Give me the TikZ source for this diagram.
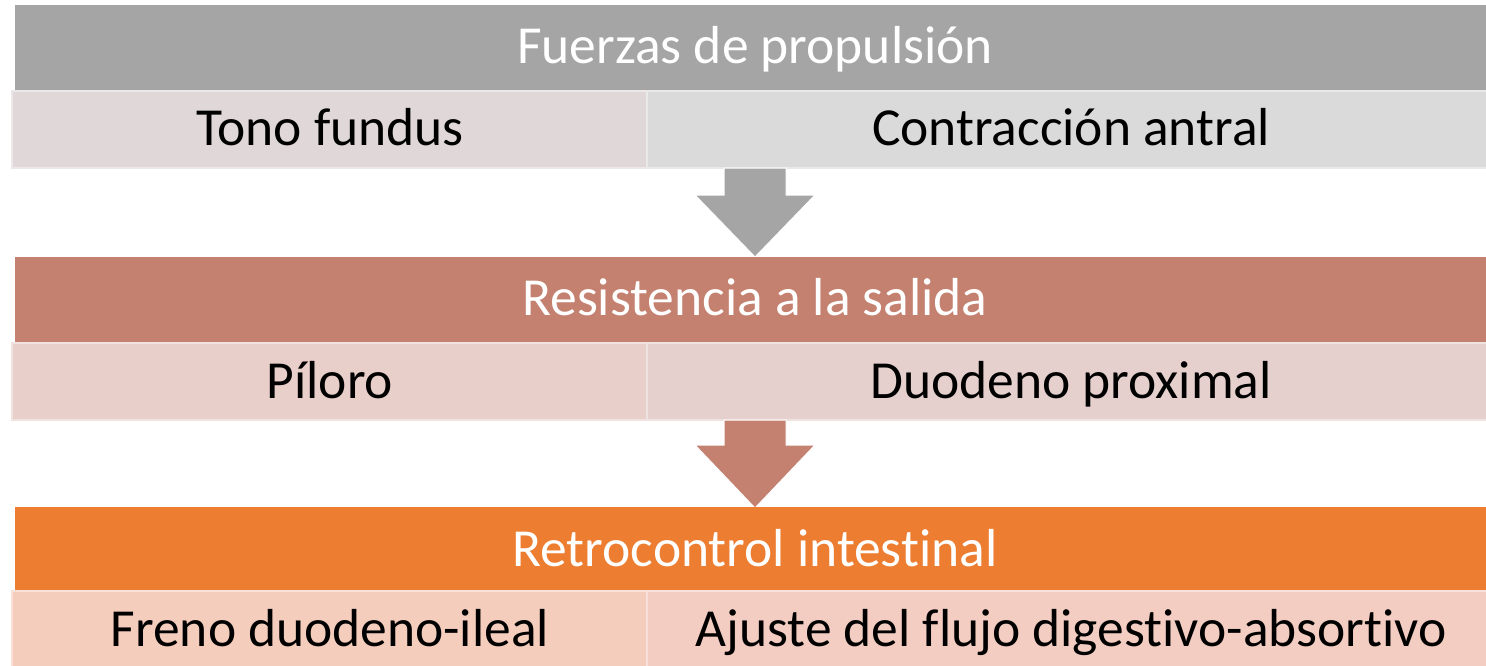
\documentclass[tikz,border=0pt]{standalone}
\usepackage{fontspec}
\setmainfont{Carlito}[Ligatures={NoCommon}]
\definecolor{hdA}{HTML}{A5A5A5}
\definecolor{cA1}{HTML}{DFD7D8}
\definecolor{cA2}{HTML}{DADADA}
\definecolor{hdB}{HTML}{C48170}
\definecolor{cB1}{HTML}{E9CFCA}
\definecolor{cB2}{HTML}{E5D0CD}
\definecolor{hdC}{HTML}{ED7D31}
\definecolor{cC1}{HTML}{F5CDBD}
\definecolor{cC2}{HTML}{F3CDC1}
\tikzset{
  cell/.style={fill=#1, draw=white!40!#1, line width=1.5pt},
  hdtext/.style={text=white, font=\fontsize{53.5}{60}\selectfont, inner sep=0pt, anchor=base},
  celltext/.style={text=black, font=\fontsize{53.5}{60}\selectfont, inner sep=0pt, anchor=base},
  downarrow/.style={fill=#1, draw=white, line width=1pt, line join=miter}
}
\begin{document}
\begin{tikzpicture}[x=1pt,y=-1pt]
\useasboundingbox (0,0) rectangle (1486,665);
\begin{scope}
\clip (0,0) rectangle (1486,665);
% Row 1
\fill[hdA] (15,5) rectangle (1495,91);
\draw[cell=cA1] (12,91) rectangle (647,168);
\draw[cell=cA2] (647,91) rectangle (1495,168);
\node[hdtext] (h1) at (755,63) {Fuerzas de propulsión};
\node[celltext] (c11) at (330,145) {Tono fundus};
\node[celltext] (c12) at (1071,145) {Contracción antral};
% Arrow 1
\draw[downarrow=hdA] (724,168) -- (786,168) -- (786,195) -- (815,195) -- (755,257) -- (695,195) -- (724,195) -- cycle;
% Row 2
\fill[hdB] (15,257) rectangle (1495,343);
\draw[cell=cB1] (12,343) rectangle (647,420);
\draw[cell=cB2] (647,343) rectangle (1495,420);
\node[hdtext] (h2) at (755,315) {Resistencia a la salida};
\node[celltext] (c21) at (330,398) {Píloro};
\node[celltext] (c22) at (1071,398) {Duodeno proximal};
% Arrow 2
\draw[downarrow=hdB] (724,420) -- (786,420) -- (786,445) -- (815,445) -- (755,508) -- (695,445) -- (724,445) -- cycle;
% Row 3
\fill[hdC] (15,507) rectangle (1495,591);
\draw[cell=cC1] (12,591) rectangle (647,672);
\draw[cell=cC2] (647,591) rectangle (1495,672);
\node[hdtext] (h3) at (755,566) {Retrocontrol intestinal};
\node[celltext] (c31) at (330,646) {Freno duodeno-ileal};
\node[celltext] (c32) at (1071,646) {Ajuste del flujo digestivo-absortivo};
\end{scope}
\end{tikzpicture}
\end{document}
